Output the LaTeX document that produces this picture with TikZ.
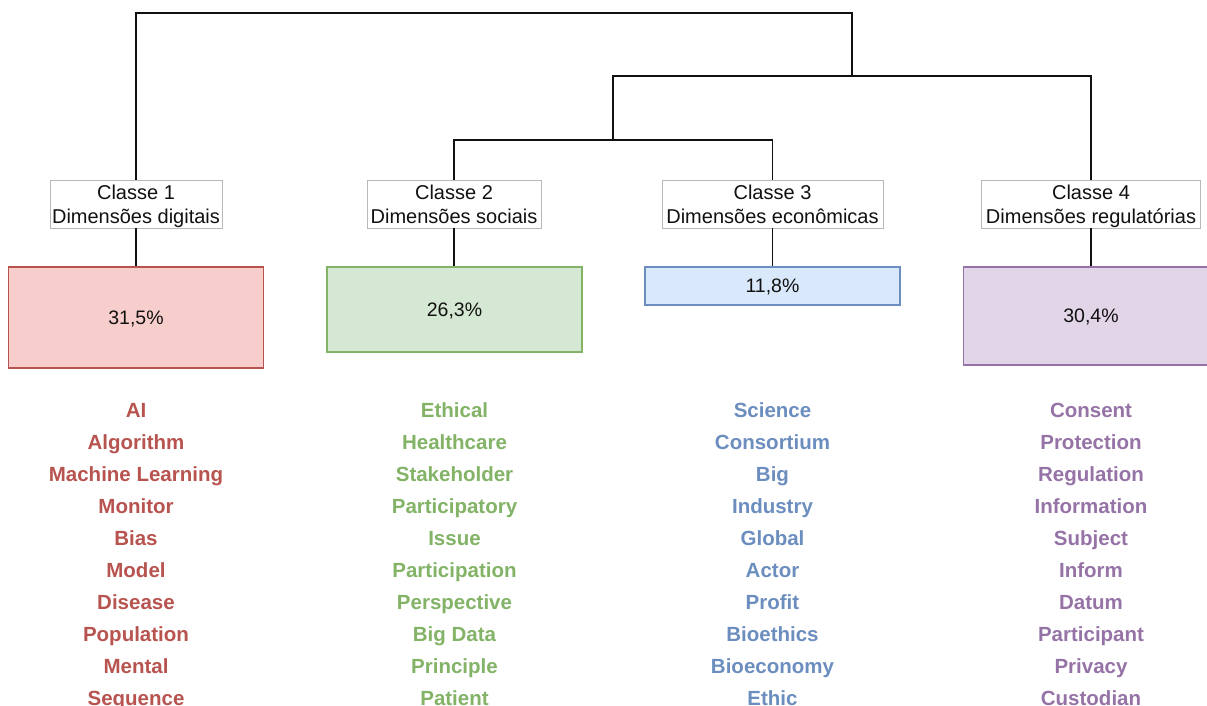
\documentclass[tikz,border=0pt]{standalone}
\usepackage{fontspec}
\setmainfont{Liberation Sans}
\definecolor{rfill}{HTML}{F8CECC}\definecolor{rline}{HTML}{B85450}
\definecolor{gfill}{HTML}{D5E8D4}\definecolor{gline}{HTML}{82B366}
\definecolor{bfill}{HTML}{DAE8FC}\definecolor{bline}{HTML}{6C8EBF}
\definecolor{pfill}{HTML}{E1D5E7}\definecolor{pline}{HTML}{9673A6}
\definecolor{hdrline}{HTML}{B8B8B8}
\definecolor{ink}{HTML}{111111}
\begin{document}
\begin{tikzpicture}[x=1pt,y=-1pt,
  hdr/.style={draw=hdrline,fill=white,line width=0.9pt,inner sep=0pt,align=center,
    font=\fontsize{20}{24}\selectfont,text=ink,minimum height=48pt,text depth=0pt},
  pct/.style={line width=1.4pt,inner sep=0pt,minimum width=255pt,
    font=\fontsize{19.5}{22}\selectfont,text=ink,text depth=-5pt},
  word/.style={inner sep=0pt,anchor=base,font=\fontsize{20.5}{24}\selectfont\bfseries},
  link/.style={line width=1.3pt,draw=ink,line join=miter}]
\useasboundingbox (0,0) rectangle (1207,706);
\clip (0,0) rectangle (1207,706);
% header boxes
\node[hdr,minimum width=172pt] (h1) at (136,204) {Classe 1\\Dimensões digitais};
\node[hdr,minimum width=174pt] (h2) at (454,204) {Classe 2\\Dimensões sociais};
\node[hdr,minimum width=221pt] (h3) at (772.5,204) {Classe 3\\Dimensões econômicas};
\node[hdr,minimum width=219pt] (h4) at (1091,204) {Classe 4\\Dimensões regulatórias};
% percentage boxes
\node[pct,draw=rline,fill=rfill,minimum height=101pt] (b1) at (136,317.5) {31,5\%};
\node[pct,draw=gline,fill=gfill,minimum height=85pt] (b2) at (454.5,309.5) {26,3\%};
\node[pct,draw=bline,fill=bfill,minimum height=38pt] (b3) at (772.5,286) {11,8\%};
\node[pct,draw=pline,fill=pfill,minimum height=98pt] (b4) at (1091,316) {30,4\%};
% dendrogram
\coordinate (r) at (852,13);
\coordinate (m1) at (852,76);
\coordinate (m2) at (613,140);
\draw[link] (h1.north) |- (r) -- (m1);
\draw[link] (m2) |- (m1) -| (h4.north);
\draw[link] (h2.north) |- (m2) -| (h3.north);
\foreach \i in {1,2,3,4}{\draw[link] (h\i.south) -- (h\i.south |- b\i.north);}
% word lists
\foreach \w [count=\k from 0] in {AI,Algorithm,Machine Learning,Monitor,Bias,Model,Disease,Population,Mental,Sequence}
  {\node[word,text=rline] (wa\k) at (136,417+32*\k) {\w};}
\foreach \w [count=\k from 0] in {Ethical,Healthcare,Stakeholder,Participatory,Issue,Participation,Perspective,Big Data,Principle,Patient}
  {\node[word,text=gline] (wb\k) at (454.5,417+32*\k) {\w};}
\foreach \w [count=\k from 0] in {Science,Consortium,Big,Industry,Global,Actor,Profit,Bioethics,Bioeconomy,Ethic}
  {\node[word,text=bline] (wc\k) at (772.5,417+32*\k) {\w};}
\foreach \w [count=\k from 0] in {Consent,Protection,Regulation,Information,Subject,Inform,Datum,Participant,Privacy,Custodian}
  {\node[word,text=pline] (wd\k) at (1091,417+32*\k) {\w};}
\end{tikzpicture}
\end{document}
